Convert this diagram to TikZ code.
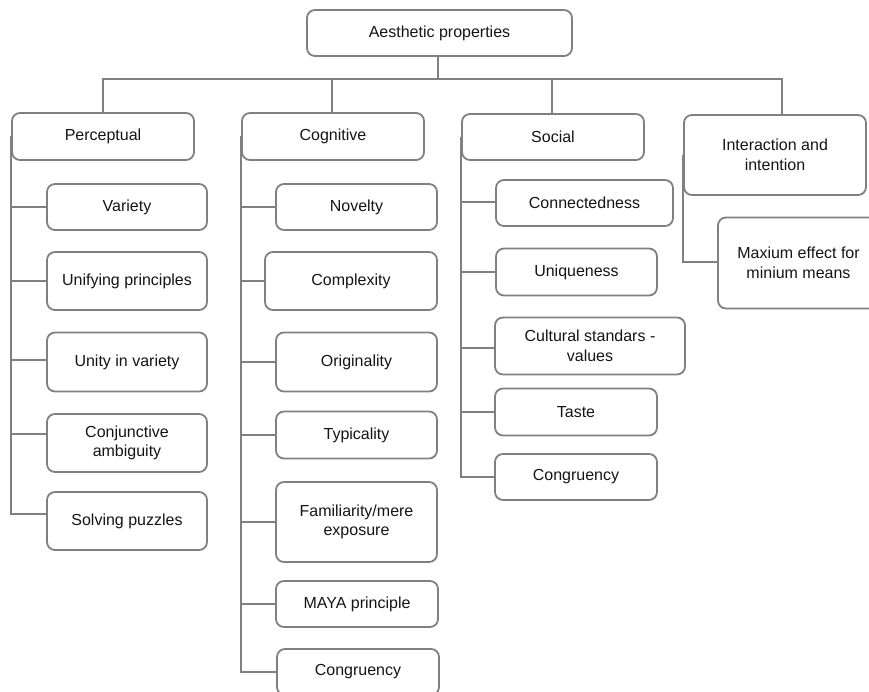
\documentclass[tikz,border=0pt]{standalone}
\usepackage{fontspec}
\setmainfont{Liberation Sans}
\begin{document}
\definecolor{edgegray}{RGB}{128,128,128}
\definecolor{inkdark}{RGB}{20,20,20}
\begin{tikzpicture}[x=1pt,y=-1pt,
  box/.style={draw=edgegray, line width=1.8pt, rounded corners=8pt,
    inner sep=0pt, align=center, text=inkdark,
    font=\fontsize{16}{19.5}\selectfont},
  link/.style={draw=edgegray, line width=2pt}]
\useasboundingbox (0,0) rectangle (869,692);

% root and category boxes
\node[box, minimum width=265pt, minimum height=46pt] (root) at (439.5,33) {Aesthetic properties};
\node[box, minimum width=182pt, minimum height=47pt] (perc) at (103,136.5) {Perceptual};
\node[box, minimum width=182pt, minimum height=47pt] (cog) at (333,136.5) {Cognitive};
\node[box, minimum width=182pt, minimum height=46pt] (soc) at (553,137) {Social};
\node[box, minimum width=182pt, minimum height=80pt] (inter) at (775,155) {Interaction and\\intention};

% perceptual items
\node[box, minimum width=160pt, minimum height=46pt] (variety) at (127,207) {Variety};
\node[box, minimum width=160pt, minimum height=58pt] (unifying) at (127,281) {Unifying principles};
\node[box, minimum width=160pt, minimum height=59pt] (unity) at (127,362) {Unity in variety};
\node[box, minimum width=160pt, minimum height=58pt] (conj) at (127,443) {Conjunctive\\ambiguity};
\node[box, minimum width=160pt, minimum height=58pt] (puzzles) at (127,521) {Solving puzzles};

% cognitive items
\node[box, minimum width=161pt, minimum height=46pt] (novelty) at (356.5,207) {Novelty};
\node[box, minimum width=172pt, minimum height=58pt] (complexity) at (351,281) {Complexity};
\node[box, minimum width=161pt, minimum height=59pt] (originality) at (356.5,362) {Originality};
\node[box, minimum width=161pt, minimum height=47pt] (typicality) at (356.5,435) {Typicality};
\node[box, minimum width=161pt, minimum height=80pt] (familiarity) at (356.5,522) {Familiarity/mere\\exposure};
\node[box, minimum width=162pt, minimum height=46pt] (maya) at (357,604) {MAYA principle};
\node[box, minimum width=162pt, minimum height=46pt] (cogcong) at (358,672) {Congruency};

% social items
\node[box, minimum width=177pt, minimum height=46pt] (connected) at (584.5,203) {Connectedness};
\node[box, minimum width=161pt, minimum height=47pt] (unique) at (576.5,272) {Uniqueness};
\node[box, minimum width=190pt, minimum height=57pt] (cultural) at (590,346) {Cultural standars -\\values};
\node[box, minimum width=162pt, minimum height=47pt] (taste) at (576,412) {Taste};
\node[box, minimum width=162pt, minimum height=46pt] (soccong) at (576,477) {Congruency};

% interaction item
\node[box, minimum width=161pt, minimum height=91pt] (maxeffect) at (798.5,263) {Maxium effect for\\minium means};

% attachment points on the left sides of some items
\coordinate (pzA) at ([yshift=7pt]puzzles.west);
\coordinate (unA) at ([yshift=2pt]unity.west);
\coordinate (cjA) at ([yshift=9pt]conj.west);
\coordinate (cnA) at ([yshift=1pt]connected.west);
\coordinate (clA) at ([yshift=-2pt]cultural.west);
\coordinate (mxA) at ([yshift=1pt]maxeffect.west);
\coordinate (rootA) at ([xshift=-1.5pt]root.south);
\coordinate (cogA) at ([xshift=-1pt]cog.north);
\coordinate (socA) at ([xshift=-1pt]soc.north);
\coordinate (intA) at ([xshift=7pt]inter.north);

% top bus
\coordinate (bus) at (438,79);
\draw[link] (rootA) -- (rootA |- bus);
\draw[link] (perc.north) |- (bus) -| (intA);
\draw[link] (cogA) -- (cogA |- bus);
\draw[link] (socA) -- (socA |- bus);

% perceptual spine (runs down the left side of the category box)
\draw[link] (perc.west) -- (perc.west |- pzA) -- (pzA);
\draw[link] (perc.west |- variety.west) -- (variety.west);
\draw[link] (perc.west |- unifying.west) -- (unifying.west);
\draw[link] (perc.west |- unA) -- (unA);
\draw[link] (perc.west |- cjA) -- (cjA);

% cognitive spine
\draw[link] (cog.west) -- (cog.west |- cogcong.west) -- (cogcong.west);
\draw[link] (cog.west |- novelty.west) -- (novelty.west);
\draw[link] (cog.west |- complexity.west) -- (complexity.west);
\draw[link] (cog.west |- originality.west) -- (originality.west);
\draw[link] (cog.west |- typicality.west) -- (typicality.west);
\draw[link] (cog.west |- familiarity.west) -- (familiarity.west);
\draw[link] (cog.west |- maya.west) -- (maya.west);

% social spine
\draw[link] (soc.west) -- (soc.west |- soccong.west) -- (soccong.west);
\draw[link] (soc.west |- cnA) -- (cnA);
\draw[link] (soc.west |- unique.west) -- (unique.west);
\draw[link] (soc.west |- clA) -- (clA);
\draw[link] (soc.west |- taste.west) -- (taste.west);

% interaction spine
\draw[link] (inter.west) |- (mxA);
\end{tikzpicture}
\end{document}
